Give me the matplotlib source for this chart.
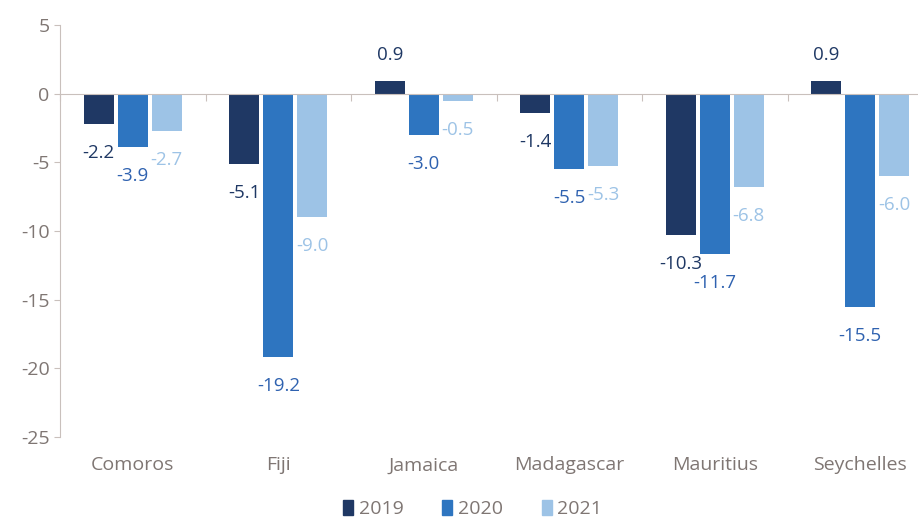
import numpy as np
import matplotlib.pyplot as plt
from matplotlib.patches import Patch

countries = ["Comoros", "Fiji", "Jamaica", "Madagascar", "Mauritius", "Seychelles"]
years = ["2019", "2020", "2021"]
v2019 = [-2.2, -5.1, 0.9, -1.4, -10.3, 0.9]
v2020 = [-3.9, -19.2, -3.0, -5.5, -11.7, -15.5]
v2021 = [-2.7, -9.0, -0.5, -5.3, -6.8, -6.0]

series = [v2019, v2020, v2021]
bar_colors = ["#1f3864", "#2e75c0", "#9dc3e6"]
label_colors = ["#1f3864", "#2f62b0", "#9dc3e6"]
axis_grey = "#c9c0bc"
text_grey = "#7f7673"

plt.rcParams['font.family'] = ['Open Sans', 'DejaVu Sans']
plt.rcParams['axes.unicode_minus'] = False

fig = plt.figure(figsize=(9.18, 5.17), dpi=100)
ax = fig.add_axes([60 / 918, 80 / 517, 873 / 918, 412 / 517])

x = np.arange(len(countries))
step = 0.234
width = 0.206
for i, vals in enumerate(series):
    pos = x + (i - 1) * step
    ax.bar(pos, vals, width=width, color=bar_colors[i], label=years[i], zorder=2)
    for px, v in zip(pos, vals):
        off = 26 if v > 0 else -29
        ax.annotate(f"{v:.1f}", (px, v), xytext=(0, off), textcoords='offset pixels',
                    ha='center', va='center', fontsize=13.5, color=label_colors[i])

ax.set_xlim(-0.5, len(countries) - 0.5)
ax.set_ylim(-25, 5)
ax.set_yticks(np.arange(-25, 6, 5))
ax.tick_params(axis='y', colors=text_grey, labelsize=14, length=4, color=axis_grey)

for s in ['top', 'right']:
    ax.spines[s].set_visible(False)
ax.spines['left'].set_color(axis_grey)
ax.spines['bottom'].set_position(('data', 0))
ax.spines['bottom'].set_color(axis_grey)
ax.set_xticks(np.arange(-0.5, len(countries), 1.0))
ax.tick_params(axis='x', length=5, color=axis_grey, direction='out', labelbottom=False)

sec = ax.secondary_xaxis(0)
sec.set_xticks(x)
sec.set_xticklabels(countries)
sec.tick_params(length=0, labelsize=14, colors=text_grey, pad=14)
sec.spines['bottom'].set_visible(False)

handles = [Patch(color=c, label=y) for c, y in zip(bar_colors, years)]
fig.legend(handles=handles, loc='center', bbox_to_anchor=(0.515, 0.015), ncol=3,
           frameon=False, fontsize=14, handlelength=0.5, handleheight=0.8,
           handletextpad=0.3, columnspacing=2.0, labelcolor=text_grey)

fig.savefig("out.png", dpi=100)
